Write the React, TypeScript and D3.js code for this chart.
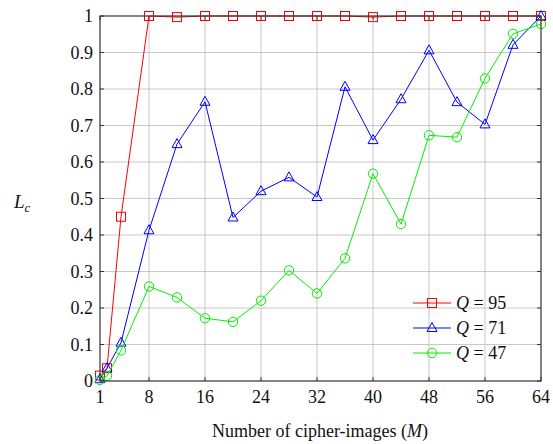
import React from 'react';
import * as d3 from 'd3';

// number of cipher-images on the x axis
const xs = [1, 2, 4, 8, 12, 16, 20, 24, 28, 32, 36, 40, 44, 48, 52, 56, 60, 64];

const q95 = [0.015, 0.035, 0.45, 1, 0.997, 1, 1, 1, 1, 1, 1, 0.997, 1, 1, 1, 1, 1, 1];
const q71 = [0.005, 0.035, 0.105, 0.413, 0.649, 0.765, 0.448, 0.52, 0.558, 0.504, 0.806, 0.66, 0.772, 0.906, 0.764, 0.703, 0.921, 1.0];
const q47 = [0.003, 0.014, 0.084, 0.259, 0.229, 0.172, 0.162, 0.22, 0.303, 0.24, 0.336, 0.568, 0.43, 0.673, 0.668, 0.829, 0.951, 0.978];

const xTicks = [1, 8, 16, 24, 32, 40, 48, 56, 64];
const yTicks = [0, 0.1, 0.2, 0.3, 0.4, 0.5, 0.6, 0.7, 0.8, 0.9, 1];

const series = [
  { q: '95', values: q95, color: '#ff0000', marker: 'square' },
  { q: '71', values: q71, color: '#0000ff', marker: 'triangle' },
  { q: '47', values: q47, color: '#00f000', marker: 'circle' },
];

const W = 553;
const H = 444;
const FONT = "'Times New Roman', Times, 'Liberation Serif', 'DejaVu Serif', serif";

const Marker = ({ type, x, y, color }) => {
  if (type === 'square') {
    return <rect x={x - 4.5} y={y - 4.5} width={9} height={9} fill="none" stroke={color} strokeWidth={1} />;
  }
  if (type === 'triangle') {
    const p = `${x},${y - 5.5} ${x - 5},${y + 3.5} ${x + 5},${y + 3.5}`;
    return <polygon points={p} fill="none" stroke={color} strokeWidth={1} />;
  }
  return <circle cx={x} cy={y} r={4.7} fill="none" stroke={color} strokeWidth={1} />;
};

const App = () => {
  const x = d3.scaleLinear().domain([1, 64]).range([100, 541]);
  const y = d3.scaleLinear().domain([0, 1]).range([381, 16]);

  const line = d3.line<number>()
    .x((d, i) => x(xs[i]))
    .y(d => y(d));

  const axisColor = '#333';
  const gridColor = '#c8c8c8';
  const txt = { fontFamily: FONT };

  return (
    <svg width={W} height={H} style={{ position: 'absolute', left: 0, top: 0, background: '#fff', fontFamily: FONT }}>
      {/* grid */}
      <g stroke={gridColor} strokeWidth={1}>
        {xTicks.slice(1, -1).map(t => (
          <line key={'gx' + t} x1={x(t)} x2={x(t)} y1={y(0)} y2={y(1)} />
        ))}
        {yTicks.slice(1, -1).map(t => (
          <line key={'gy' + t} x1={x(1)} x2={x(64)} y1={y(t)} y2={y(t)} />
        ))}
      </g>

      {/* inner ticks */}
      <g stroke={axisColor} strokeWidth={1}>
        {xTicks.map(t => (
          <g key={'tx' + t}>
            <line x1={x(t)} x2={x(t)} y1={y(0)} y2={y(0) - 4} />
            <line x1={x(t)} x2={x(t)} y1={y(1)} y2={y(1) + 4} />
          </g>
        ))}
        {yTicks.map(t => (
          <g key={'ty' + t}>
            <line x1={x(1)} x2={x(1) + 4} y1={y(t)} y2={y(t)} />
            <line x1={x(64)} x2={x(64) - 4} y1={y(t)} y2={y(t)} />
          </g>
        ))}
      </g>

      {/* tick labels */}
      <g fontSize={18} fill="#111" style={txt}>
        {xTicks.map(t => (
          <text key={'lx' + t} x={x(t)} y={403} textAnchor="middle">{t}</text>
        ))}
        {yTicks.map(t => (
          <text key={'ly' + t} x={93} y={y(t) + 6} textAnchor="end">{t}</text>
        ))}
      </g>

      {/* series */}
      {series.map(s => (
        <g key={s.q}>
          <path d={line(s.values) || ''} fill="none" stroke={s.color} strokeWidth={1} />
          {s.values.map((v, i) => (
            <Marker key={i} type={s.marker} x={x(xs[i])} y={y(v)} color={s.color} />
          ))}
        </g>
      ))}

      {/* frame */}
      <rect x={x(1)} y={y(1)} width={x(64) - x(1)} height={y(0) - y(1)} fill="none" stroke={axisColor} strokeWidth={1.2} />

      {/* legend */}
      <g fontSize={18} fill="#111" style={txt}>
        {series.map((s, i) => {
          const ly = 303 + i * 25;
          return (
            <g key={'lg' + s.q}>
              <line x1={413} x2={451} y1={ly} y2={ly} stroke={s.color} strokeWidth={1} />
              <Marker type={s.marker} x={432} y={ly} color={s.color} />
              <text x={456} y={ly + 6}>
                <tspan fontStyle="italic">Q</tspan>
                <tspan> = {s.q}</tspan>
              </text>
            </g>
          );
        })}
      </g>

      {/* axis titles */}
      <text x={320} y={437} textAnchor="middle" fontSize={18} fill="#111" style={txt}>
        Number of cipher-images (<tspan fontStyle="italic">M</tspan>)
      </text>
      <text x={14} y={208} fontSize={19} fill="#111" style={txt}>
        <tspan fontStyle="italic">L</tspan>
        <tspan fontStyle="italic" fontSize={13} dy={4}>c</tspan>
      </text>
    </svg>
  );
};

export default App;
